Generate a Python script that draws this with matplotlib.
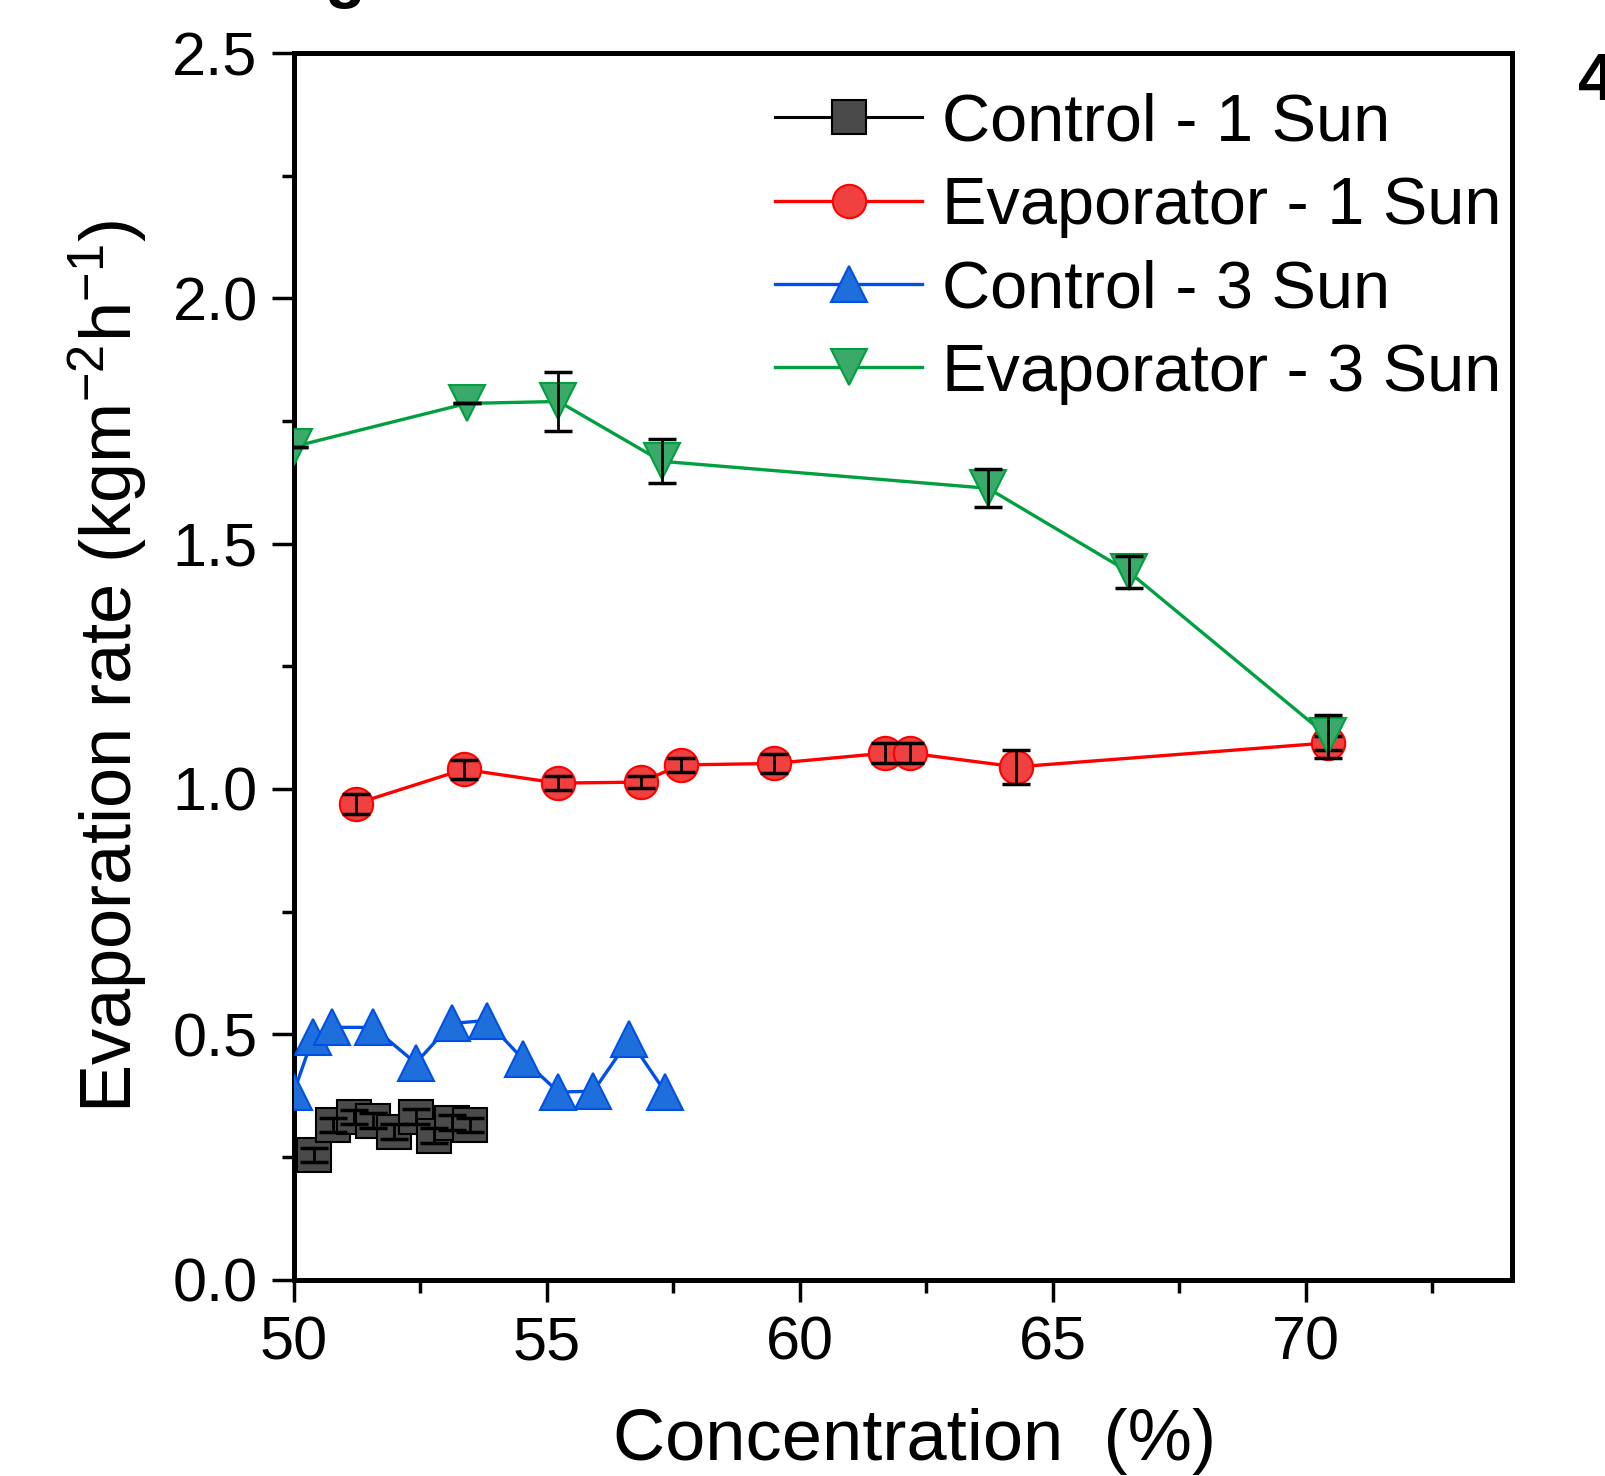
import matplotlib
matplotlib.use("Agg")
import matplotlib.pyplot as plt
from matplotlib.ticker import MultipleLocator

plt.rcParams['font.family'] = ['Liberation Sans', 'DejaVu Sans']
plt.rcParams['mathtext.default'] = 'regular'

# Control - 1 Sun
x_c1 = [50.39, 50.77, 51.18, 51.57, 51.98, 52.41, 52.77, 53.12, 53.48]
y_c1 = [0.254, 0.315, 0.331, 0.324, 0.301, 0.332, 0.293, 0.320, 0.315]
e_c1 = [0.015, 0.015, 0.015, 0.015, 0.015, 0.015, 0.015, 0.015, 0.015]

# Evaporator - 1 Sun
x_e1 = [51.23, 53.36, 55.22, 56.86, 57.65, 59.48, 61.68, 62.18, 64.28, 70.44]
y_e1 = [0.970, 1.040, 1.012, 1.014, 1.049, 1.052, 1.073, 1.073, 1.045, 1.094]
e_e1 = [0.020, 0.020, 0.015, 0.012, 0.015, 0.020, 0.020, 0.020, 0.035, 0.015]

# Control - 3 Sun
x_c3 = [50.0, 50.38, 50.76, 51.57, 52.41, 53.12, 53.81, 54.52, 55.23, 55.92, 56.63, 57.34]
y_c3 = [0.382, 0.494, 0.514, 0.514, 0.441, 0.522, 0.528, 0.450, 0.382, 0.384, 0.490, 0.382]

# Evaporator - 3 Sun
x_e3 = [50.0, 53.42, 55.23, 57.27, 63.72, 66.51, 70.44]
y_e3 = [1.698, 1.786, 1.790, 1.668, 1.613, 1.442, 1.107]
e_e3 = [0.0, 0.0, 0.060, 0.045, 0.039, 0.033, 0.043]

labels = ['Control - 1 Sun', 'Evaporator - 1 Sun', 'Control - 3 Sun', 'Evaporator - 3 Sun']

W, H = 1605, 1476
fig = plt.figure(figsize=(W / 100, H / 100), dpi=100)
ax = fig.add_axes([293.8 / W, 1 - 1279.5 / H, 1218 / W, 1226.3 / H])

ms = 24
ax.plot(x_c1, y_c1, '-s', color='#000000', mfc='#4a4a4a', mec='#000000', mew=1.5, ms=ms, lw=2.2, label=labels[0], zorder=3)
ax.errorbar(x_c1, y_c1, yerr=e_c1, fmt='none', ecolor='black', elinewidth=2, capsize=10, capthick=2.5, zorder=4)

ax.plot(x_e1, y_e1, '-o', color='#ff0000', mfc='#f04040', mec='#ff0000', mew=1.5, ms=ms, lw=2.4, label=labels[1], zorder=5)
ax.errorbar(x_e1, y_e1, yerr=e_e1, fmt='none', ecolor='black', elinewidth=2, capsize=10, capthick=2.5, zorder=6)

ax.plot(x_c3, y_c3, '-^', color='#0050e6', mfc='#1e6fdb', mec='#0050e6', mew=1.5, ms=ms + 2, lw=2.4, label=labels[2], zorder=7)

ax.plot(x_e3, y_e3, '-v', color='#00a040', mfc='#3aaa6a', mec='#00a040', mew=1.5, ms=ms + 2, lw=2.4, label=labels[3], zorder=8)
ax.errorbar(x_e3, y_e3, yerr=e_e3, fmt='none', ecolor='black', elinewidth=2, capsize=10, capthick=2.5, zorder=9)

ax.set_xlim(50, 74.07)
ax.set_ylim(0, 2.5)
ax.xaxis.set_major_locator(MultipleLocator(5))
ax.xaxis.set_minor_locator(MultipleLocator(2.5))
ax.yaxis.set_major_locator(MultipleLocator(0.5))
ax.yaxis.set_minor_locator(MultipleLocator(0.25))
ax.xaxis.set_major_formatter(plt.FuncFormatter(lambda v, p: f'{v:.0f}'))
ax.yaxis.set_major_formatter(plt.FuncFormatter(lambda v, p: f'{v:.1f}'))

for s in ax.spines.values():
    s.set_linewidth(3.6)
ax.tick_params(which='both', direction='out', top=False, right=False, width=2.5)
ax.tick_params(which='major', length=16, labelsize=44, pad=10)
ax.tick_params(which='minor', length=9)

ax.set_xlabel('Concentration  (%)', fontsize=52)
ax.set_ylabel('Evaporation rate (kgm$^{-2}$h$^{-1}$)', fontsize=52)
ax.xaxis.set_label_coords(0.51, -0.105)
ax.yaxis.set_label_coords(-0.119, 0.5)

leg = ax.legend(loc='upper left', bbox_to_anchor=(0.357, 1.006), frameon=False, fontsize=48,
                handlelength=2.2, handletextpad=0.3, labelspacing=0.32, borderaxespad=0.3)

# cropped remnants of neighbouring panel text
fig.text(1578 / W, 1 - 100 / H, '4', fontsize=48, fontweight='bold', ha='left', va='baseline')
fig.text(324 / W, 1 + 5 / H, 'g', fontsize=48, fontweight='bold', ha='left', va='baseline')

fig.savefig('out.png', dpi=100)
